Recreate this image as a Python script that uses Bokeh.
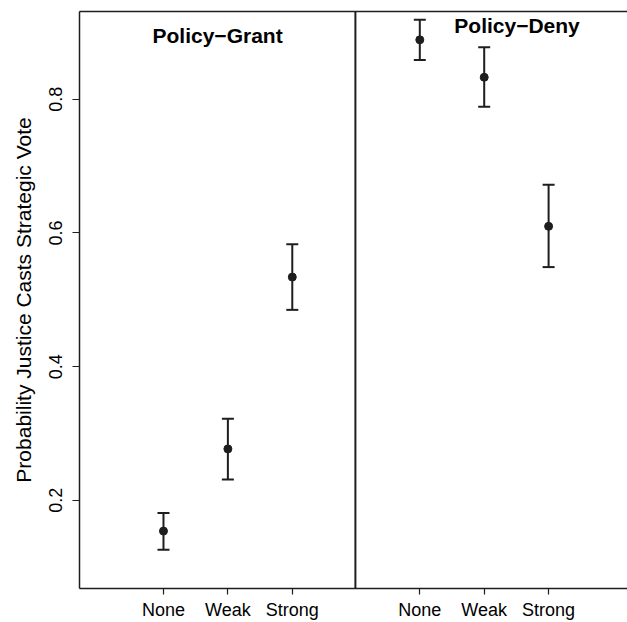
import math
from bokeh.plotting import figure
from bokeh.models import (ColumnDataSource, Whisker, TeeHead, FixedTicker, Span,
                          LinearAxis, Range1d)
from bokeh.core.properties import value
from bokeh.embed import file_html
from bokeh.resources import INLINE

# ---- data ----
categories = ["None", "Weak", "Strong"]
grant_est = [0.154, 0.277, 0.534]
grant_lo = [0.126, 0.231, 0.485]
grant_hi = [0.181, 0.322, 0.583]
deny_est = [0.889, 0.833, 0.610]
deny_lo = [0.859, 0.789, 0.549]
deny_hi = [0.919, 0.878, 0.672]
panel_titles = ["Policy\u2212Grant", "Policy\u2212Deny"]
y_ticks = [0.2, 0.4, 0.6, 0.8]
y_label = "Probability Justice Casts Strategic Vote"

# ---- layout parameters ----
positions = [1, 2, 3]
PANEL_OFFSET = 3.98
FONT = "Liberation Sans"
INK = "#1e1e1e"

x_grant = positions
x_deny = [p + PANEL_OFFSET for p in positions]

src = ColumnDataSource(dict(
    x=x_grant + x_deny,
    est=grant_est + deny_est,
    lo=grant_lo + deny_lo,
    hi=grant_hi + deny_hi,
))

p = figure(width=627, height=622, output_backend="svg", toolbar_location=None,
           x_range=Range1d(-0.304, 8.205), y_range=Range1d(0.0681, 0.9314),
           min_border_left=79, min_border_right=0, min_border_top=11,
           min_border_bottom=33, x_axis_location="below")
p.outline_line_color = None
p.xgrid.visible = False
p.ygrid.visible = False
p.background_fill_color = "white"
p.border_fill_color = "white"

# x axis
xa = p.xaxis[0]
xa.ticker = FixedTicker(ticks=x_grant + x_deny)
xa.major_label_overrides = {t: lab for t, lab in zip(x_grant + x_deny, categories * 2)}
xa.major_tick_out = 6
xa.major_tick_in = 0
xa.minor_tick_line_color = None
xa.major_label_standoff = 5
xa.major_label_text_font = FONT
xa.major_label_text_font_size = "18px"
xa.major_label_text_color = "black"
xa.axis_line_color = INK
xa.axis_line_width = 1.5
xa.major_tick_line_color = INK
xa.major_tick_line_width = 1.2

# y axis
ya = p.yaxis[0]
ya.ticker = FixedTicker(ticks=y_ticks)
ya.major_tick_out = 7
ya.major_tick_in = 0
ya.minor_tick_line_color = None
ya.major_label_orientation = "parallel"
ya.major_label_standoff = 10
ya.major_label_text_font = FONT
ya.major_label_text_font_size = "18px"
ya.major_label_text_color = "black"
ya.axis_label = y_label
ya.axis_label_text_font = FONT
ya.axis_label_text_font_size = "21px"
ya.axis_label_text_font_style = "normal"
ya.axis_label_text_color = "black"
ya.axis_label_standoff = 12
ya.axis_line_color = INK
ya.axis_line_width = 1.5
ya.major_tick_line_color = INK
ya.major_tick_line_width = 1.2

# top frame line via an empty axis
top = LinearAxis(ticker=FixedTicker(ticks=[]), major_tick_out=0, major_tick_in=0,
                 minor_tick_line_color=None, major_label_standoff=0,
                 major_label_text_font_size="0px", axis_line_color=INK,
                 axis_line_width=1.5)
p.add_layout(top, "above")

# panel divider
p.add_layout(Span(location=PANEL_OFFSET, dimension="height", line_color=INK,
                  line_width=2))

# error bars
p.add_layout(Whisker(source=src, base="x", upper="hi", lower="lo",
                     line_color=INK, line_width=2,
                     upper_head=TeeHead(size=12, line_color=INK, line_width=2),
                     lower_head=TeeHead(size=12, line_color=INK, line_width=2)))

# point estimates
p.scatter("x", "est", source=src, size=8, color=INK)

# panel titles
p.text(x=[1.84, 2.51 + PANEL_OFFSET], y=[0.896, 0.910], text=panel_titles,
       text_font=value(FONT), text_font_style="bold", text_font_size="21px",
       text_align="center", text_baseline="alphabetic", text_color="black")

open("out.html", "w").write(file_html(p, INLINE))
